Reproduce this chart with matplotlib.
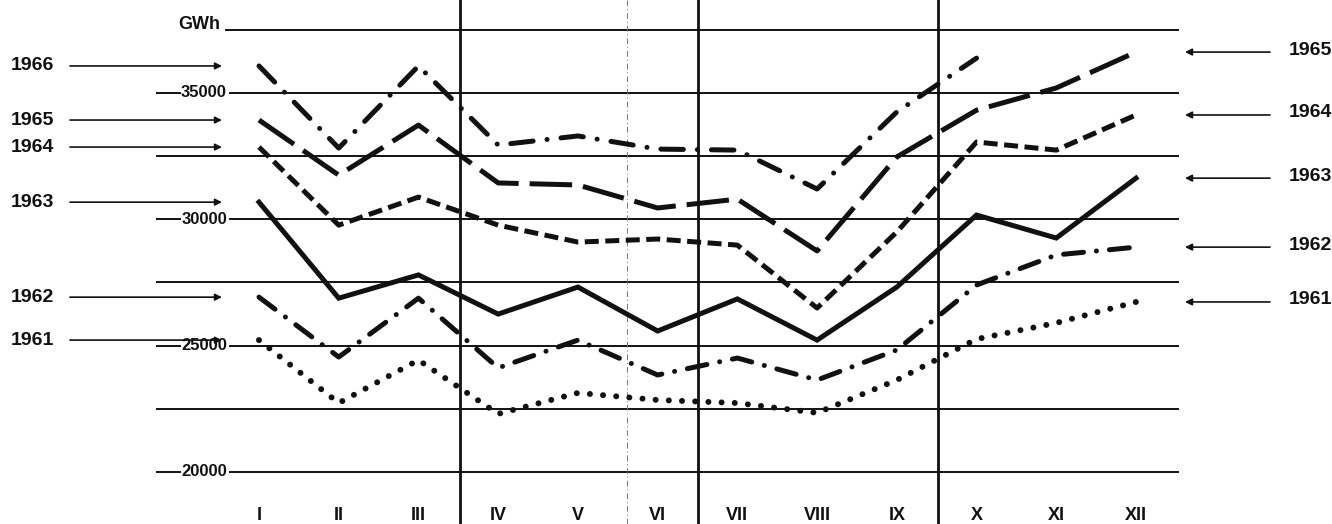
import matplotlib.pyplot as plt
import matplotlib.transforms as mtransforms

plt.rcParams['font.family'] = ['Liberation Sans Narrow', 'Liberation Sans', 'DejaVu Sans']
plt.rcParams['font.weight'] = 'bold'

# Monatliche Stromerzeugung in GWh
months = ["I", "II", "III", "IV", "V", "VI", "VII", "VIII", "IX", "X", "XI", "XII"]
gwh_1961 = [25220, 22730, 24430, 22300, 23130, 22850, 22730, 22340, 23640, 25260, 25900, 26730]
gwh_1962 = [26920, 24550, 26880, 24120, 25220, 23840, 24510, 23640, 24830, 27400, 28590, 28900]
gwh_1963 = [30680, 26880, 27800, 26250, 27320, 25580, 26850, 25220, 27320, 30170, 29260, 31630]
gwh_1964 = [32860, 29770, 30880, 29770, 29100, 29220, 28980, 26490, 29500, 33060, 32740, 34130]
gwh_1965 = [33930, 31750, 33730, 31440, 31360, 30450, 30800, 28750, 32470, 34320, 35200, 36620]
gwh_1966 = [36070, 32820, 36070, 32940, 33300, 32780, 32740, 31200, 34250, 36380]

grid_levels = [20000, 22500, 25000, 27500, 30000, 32500, 35000, 37500]
labelled_levels = [20000, 25000, 30000, 35000]

W, H = 1332, 524
fig = plt.figure(figsize=(W / 100, H / 100), dpi=100)
ax = fig.add_axes([0, 0, 1, 1])
ax.set_axis_off()

# Achsen so gelegt, dass Monat 1 bei 259 px und Monat 12 bei 1136 px liegt
step = (1136 - 259) / 11
ax.set_xlim(1 - 259 / step, 1 + (W - 259) / step)
px_per_gwh = (472 - 93) / 15000
ax.set_ylim(20000 - (H - 472) / px_per_gwh, 20000 + 472 / px_per_gwh)

ink = '#111111'
blend = mtransforms.blended_transform_factory(ax.transAxes, ax.transData)

# horizontale Linien
for lvl in grid_levels:
    if lvl in labelled_levels:
        ax.axhline(lvl, xmin=157 / W, xmax=180 / W, color=ink, lw=1.4)
        ax.axhline(lvl, xmin=230 / W, xmax=1178 / W, color=ink, lw=1.4)
        ax.text(204 / W, lvl, str(lvl), transform=blend, ha='center', va='center',
                fontsize=12, color=ink)
    elif lvl == 37500:
        ax.axhline(lvl, xmin=226 / W, xmax=1178 / W, color=ink, lw=1.4)
        ax.text(220 / W, lvl + 200, "GWh", transform=blend, ha='right', va='center',
                fontsize=13, color=ink)
    else:
        ax.axhline(lvl, xmin=157 / W, xmax=1178 / W, color=ink, lw=1.4)

# Quartalsgrenzen
for xq in [3.52, 6.5, 9.52]:
    ax.axvline(xq, color=ink, lw=2.0)
ax.axvline(5.62, color='#777777', lw=0.7, ls=(0, (6, 3, 1, 3)))

x = list(range(1, 13))
ax.plot(x, gwh_1961, color=ink, lw=4.3, ls=(0, (0.01, 2.2)), dash_capstyle='round')
ax.plot(x, gwh_1962, color=ink, lw=3.6, ls=(0, (4, 2.6, 0.01, 2.6)), dash_capstyle='round')
ax.plot(x, gwh_1963, color=ink, lw=3.6, solid_joinstyle='miter')
ax.plot(x, gwh_1964, color=ink, lw=3.6, ls=(0, (2.8, 1.3)))
ax.plot(x, gwh_1965, color=ink, lw=3.6, ls=(0, (8.5, 2.2)))
ax.plot(x[:len(gwh_1966)], gwh_1966, color=ink, lw=3.6,
        ls=(0, (4.5, 2.8, 0.01, 2.8)), dash_capstyle='round')

# Monatsbeschriftung
month_tr = mtransforms.blended_transform_factory(ax.transData, ax.transAxes)
for m, name in zip(x, months):
    ax.text(m, 9 / H, name, transform=month_tr, ha='center', va='center',
            fontsize=13, color=ink)

arrow = dict(arrowstyle='-|>', color=ink, lw=1.2, mutation_scale=10, shrinkA=0, shrinkB=0)

# Jahreszahlen links (Januarwerte)
left_series = [("1966", gwh_1966), ("1965", gwh_1965), ("1964", gwh_1964),
               ("1963", gwh_1963), ("1962", gwh_1962), ("1961", gwh_1961)]
for year, vals in left_series:
    ax.annotate("", xy=(222 / W, vals[0]), xytext=(70 / W, vals[0]),
                xycoords=blend, textcoords=blend, arrowprops=arrow)
    ax.text(32 / W, vals[0], year, transform=blend, ha='center', va='center',
            fontsize=14, color=ink)

# Jahreszahlen rechts (Dezemberwerte)
right_series = [("1965", gwh_1965), ("1964", gwh_1964), ("1963", gwh_1963),
                ("1962", gwh_1962), ("1961", gwh_1961)]
for year, vals in right_series:
    ax.annotate("", xy=(1185 / W, vals[-1]), xytext=(1270 / W, vals[-1]),
                xycoords=blend, textcoords=blend, arrowprops=arrow)
    ax.text(1310 / W, vals[-1] + 80, year, transform=blend, ha='center', va='center',
            fontsize=14, color=ink)

fig.savefig("out.png", dpi=100, facecolor='white')
